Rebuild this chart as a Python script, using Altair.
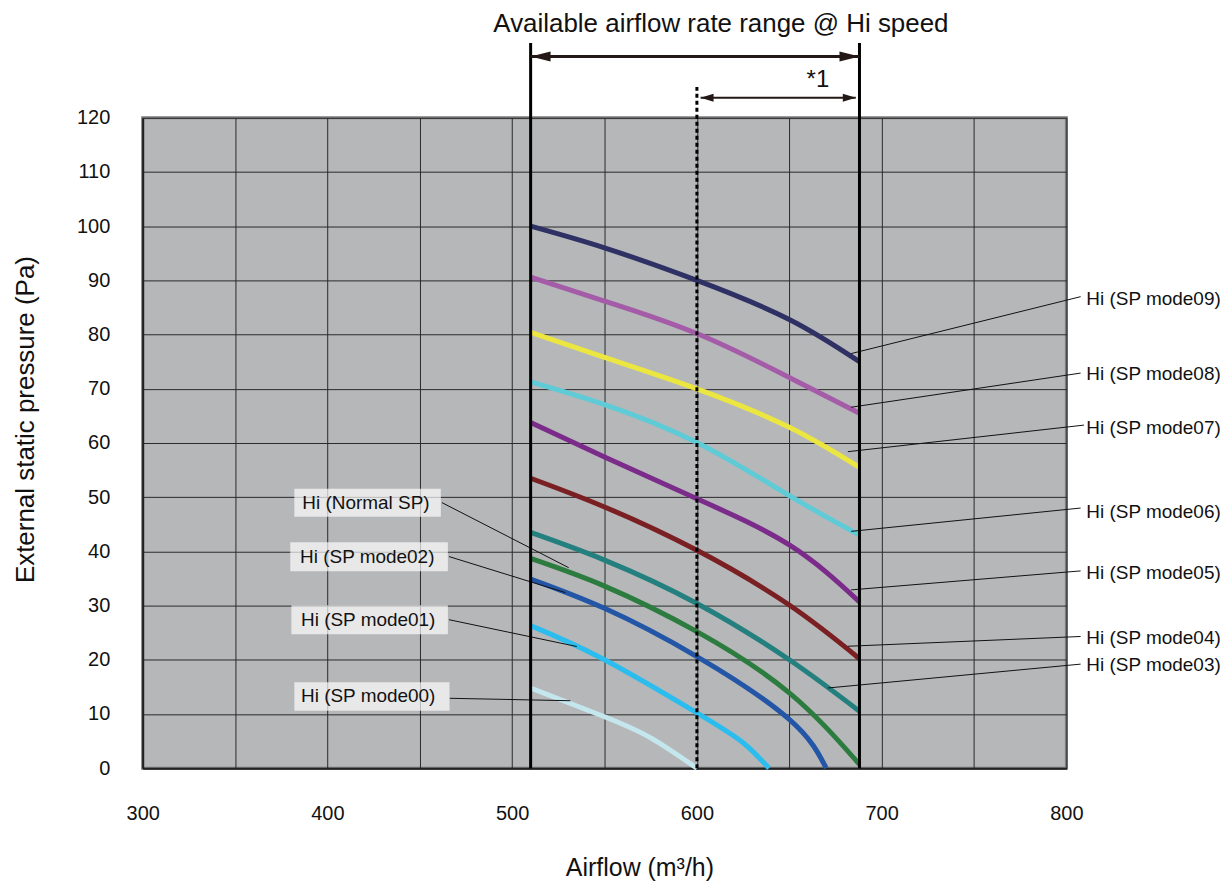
import altair as alt
import pandas as pd

# ---------------- data ----------------
series_names = ["Hi (SP mode09)", "Hi (SP mode08)", "Hi (SP mode07)", "Hi (SP mode06)",
                "Hi (SP mode05)", "Hi (SP mode04)", "Hi (SP mode03)", "Hi (Normal SP)",
                "Hi (SP mode02)", "Hi (SP mode01)", "Hi (SP mode00)"]
series_colors = ["#2f3165", "#a55ca8", "#ebe640", "#5ecbd6", "#7b2b8a", "#7a1f22",
                 "#24807f", "#2d7c3f", "#2356a6", "#2bbdee", "#c4e7ee"]

mode09_x = [510, 550, 600, 650, 688]
mode09_y = [100, 96, 90, 82.8, 75]
mode08_x = [510, 550, 600, 650, 688]
mode08_y = [90.6, 86.2, 80.2, 72.1, 65.5]
mode07_x = [510, 550, 600, 650, 688]
mode07_y = [80.4, 75.8, 70.0, 62.9, 55.5]
mode06_x = [510, 550, 600, 650, 688]
mode06_y = [71.3, 67.1, 60.1, 50.3, 43.0]
mode05_x = [510, 550, 600, 650, 688]
mode05_y = [63.8, 57.4, 49.7, 41.2, 30.7]
mode04_x = [510, 550, 600, 650, 688]
mode04_y = [53.5, 48.2, 40.2, 30.1, 20.2]
mode03_x = [510, 550, 600, 650, 688]
mode03_y = [43.5, 38.4, 30.4, 20.0, 10.5]
normal_x = [510, 550, 600, 650, 688]
normal_y = [38.7, 33.6, 25.2, 13.9, 0.7]
mode02_x = [510, 550, 600, 650, 670]
mode02_y = [34.9, 29.5, 20.6, 9.0, 0]
mode01_x = [510, 550, 600, 625, 639]
mode01_y = [26.3, 20.0, 10.2, 4.7, 0]
mode00_x = [510, 550, 575, 600]
mode00_y = [14.8, 9.5, 5.6, 0]

curves_x = [mode09_x, mode08_x, mode07_x, mode06_x, mode05_x, mode04_x,
            mode03_x, normal_x, mode02_x, mode01_x, mode00_x]
curves_y = [mode09_y, mode08_y, mode07_y, mode06_y, mode05_y, mode04_y,
            mode03_y, normal_y, mode02_y, mode01_y, mode00_y]

x_ticks = [300, 350, 400, 450, 500, 550, 600, 650, 700, 750, 800]
y_ticks = [0, 10, 20, 30, 40, 50, 60, 70, 80, 90, 100, 110, 120]

# range markers
range_lo, range_hi, range_mid = 510, 688, 600
range_line_top = 133.8
mid_line_top = 126.1
arrow_main_y = 131.3
arrow_sub_y = 123.7
arrow_sub_lo, arrow_sub_hi = 602, 686

# right-side labels (text anchor + leader line)
right_labels = ["Hi (SP mode09)", "Hi (SP mode08)", "Hi (SP mode07)", "Hi (SP mode06)",
                "Hi (SP mode05)", "Hi (SP mode04)", "Hi (SP mode03)"]
right_text_x = [810.8] * 7
right_text_y = [86.6, 72.7, 62.8, 47.3, 36.1, 24.0, 19.0]
right_lead_x1 = [807.7, 807.7, 809.5, 807.7, 807.7, 807.7, 807.7]
right_lead_y1 = [87.0, 72.9, 63.3, 48.0, 36.4, 24.3, 19.2]
right_lead_x2 = [683.5, 683.5, 681.7, 683.5, 683.5, 681.7, 670.9]
right_lead_y2 = [76.5, 66.6, 58.4, 43.7, 32.9, 22.5, 14.8]

# left-side boxed labels
left_labels = ["Hi (Normal SP)", "Hi (SP mode02)", "Hi (SP mode01)", "Hi (SP mode00)"]
left_text_x = [386.4, 385.2, 385.7, 385.7]
left_text_y = [49.0, 39.05, 27.4, 13.3]
left_box_x1 = [382.1, 379.9, 380.5, 382.1]
left_box_x2 = [461.4, 465.2, 465.2, 466.1]
left_box_y1 = [51.55, 41.7, 30.05, 15.85]
left_box_y2 = [46.4, 36.35, 24.7, 10.6]
left_lead_x1 = [462.0, 465.8, 465.8, 466.2]
left_lead_y1 = [49.0, 39.05, 27.4, 12.9]
left_lead_x2 = [530.6, 528.8, 535.0, 531.5]
left_lead_y2 = [37.0, 32.4, 22.45, 12.45]

title_text = "Available airflow rate range @ Hi speed"
title_x, title_y = 613.0, 137.3
note_text = "*1"
note_x, note_y = 665.5, 126.9

# ---------------- build tables ----------------
rows = []
for name, xs_, ys_ in zip(series_names, curves_x, curves_y):
    for a, b in zip(xs_, ys_):
        rows.append({"series": name, "airflow": a, "pressure": b})
curves_df = pd.DataFrame(rows)

xs = alt.Scale(domain=[300, 800], nice=False, zero=False)
ys = alt.Scale(domain=[0, 120], nice=False, zero=False)
FONT = "Liberation Sans"
INK = "#231815"

x_axis = alt.Axis(values=x_ticks, labelExpr="datum.value % 100 === 0 ? datum.label : ''",
                  grid=True, gridColor="#2a2a2a", gridWidth=1, ticks=False,
                  domainColor="#222222", domainWidth=2, labelFontSize=20, labelPadding=35,
                  labelFlush=False, labelOverlap=False, labelColor="#111111",
                  title="Airflow (m³/h)", titleFontSize=25, titleFontWeight="normal",
                  titleX=498, titleY=100, titleBaseline="middle", titleColor="#111111")
y_axis = alt.Axis(values=y_ticks, grid=True, gridColor="#2a2a2a", gridWidth=1, ticks=False,
                  domainColor="#222222", domainWidth=2, labelFontSize=20, labelPadding=33,
                  labelFlush=False, labelOverlap=False, labelColor="#111111",
                  title="External static pressure (Pa)", titleFontSize=26,
                  titleFontWeight="normal", titlePadding=38, titleY=302,
                  titleColor="#111111")


def X(f):
    return alt.X(f, type="quantitative", scale=xs, axis=x_axis)


def Y(f):
    return alt.Y(f, type="quantitative", scale=ys, axis=y_axis)


curves = alt.Chart(curves_df).mark_line(interpolate="natural", strokeWidth=5).encode(
    x=X("airflow"),
    y=Y("pressure"),
    color=alt.Color("series:N", scale=alt.Scale(domain=series_names, range=series_colors),
                    legend=None),
    detail="series:N",
)

vlines_df = pd.DataFrame({"x": [range_lo, range_hi], "y0": [0, 0],
                          "y1": [range_line_top, range_line_top]})
vlines = alt.Chart(vlines_df).mark_rule(color="black", strokeWidth=3).encode(
    x=X("x"), y=Y("y0"), y2="y1")

mid_df = pd.DataFrame({"x": [range_mid], "y0": [0], "y1": [mid_line_top]})
midline = alt.Chart(mid_df).mark_rule(color="black", strokeWidth=3, strokeDash=[4, 3]).encode(
    x=X("x"), y=Y("y0"), y2="y1")

arrows_df = pd.DataFrame({"x0": [range_lo, arrow_sub_lo], "x1": [range_hi, arrow_sub_hi],
                          "y": [arrow_main_y, arrow_sub_y], "w": [3, 2]})
arrow_lines = alt.Chart(arrows_df).mark_rule(color=INK).encode(
    x=X("x0"), x2="x1", y=Y("y"),
    strokeWidth=alt.StrokeWidth("w:Q", scale=None, legend=None))

big_left = alt.Chart(pd.DataFrame({"x": [range_lo], "y": [arrow_main_y]})).mark_point(
    shape="M0,0L4,-1L4,1Z", size=100, filled=True, color=INK, opacity=1).encode(
    x=X("x"), y=Y("y"))
big_right = alt.Chart(pd.DataFrame({"x": [range_hi], "y": [arrow_main_y]})).mark_point(
    shape="M0,0L-4,-1L-4,1Z", size=100, filled=True, color=INK, opacity=1).encode(
    x=X("x"), y=Y("y"))
small_left = alt.Chart(pd.DataFrame({"x": [arrow_sub_lo], "y": [arrow_sub_y]})).mark_point(
    shape="M0,0L2.6,-0.8L2.6,0.8Z", size=100, filled=True, color=INK, opacity=1).encode(
    x=X("x"), y=Y("y"))
small_right = alt.Chart(pd.DataFrame({"x": [arrow_sub_hi], "y": [arrow_sub_y]})).mark_point(
    shape="M0,0L-2.6,-0.8L-2.6,0.8Z", size=100, filled=True, color=INK, opacity=1).encode(
    x=X("x"), y=Y("y"))

right_df = pd.DataFrame({"label": right_labels, "tx": right_text_x, "ty": right_text_y,
                         "x1": right_lead_x1, "y1": right_lead_y1,
                         "x2": right_lead_x2, "y2": right_lead_y2})
right_leads = alt.Chart(right_df).mark_rule(color="#111111", strokeWidth=1).encode(
    x=X("x1"), y=Y("y1"), x2="x2", y2="y2")
right_text = alt.Chart(right_df).mark_text(align="left", baseline="middle", fontSize=19,
                                           color="#111111", font=FONT).encode(
    x=X("tx"), y=Y("ty"), text="label:N")

left_df = pd.DataFrame({"label": left_labels, "tx": left_text_x, "ty": left_text_y,
                        "bx1": left_box_x1, "bx2": left_box_x2,
                        "by1": left_box_y1, "by2": left_box_y2,
                        "x1": left_lead_x1, "y1": left_lead_y1,
                        "x2": left_lead_x2, "y2": left_lead_y2})
left_boxes = alt.Chart(left_df).mark_rect(color="white", opacity=0.68).encode(
    x=X("bx1"), x2="bx2", y=Y("by1"), y2="by2")
left_leads = alt.Chart(left_df).mark_rule(color="#111111", strokeWidth=1).encode(
    x=X("x1"), y=Y("y1"), x2="x2", y2="y2")
left_text = alt.Chart(left_df).mark_text(align="left", baseline="middle", fontSize=19,
                                         color="#111111", font=FONT).encode(
    x=X("tx"), y=Y("ty"), text="label:N")

top_df = pd.DataFrame({"label": [title_text, note_text], "x": [title_x, note_x],
                       "y": [title_y, note_y], "fs": [26, 24]})
top_text = alt.Chart(top_df).mark_text(align="center", baseline="middle", color="#111111",
                                       font=FONT).encode(
    x=X("x"), y=Y("y"), text="label:N",
    size=alt.Size("fs:Q", scale=None, legend=None))

chart = alt.layer(
    curves, right_leads, left_leads, vlines, midline, arrow_lines,
    big_left, big_right, small_left, small_right,
    left_boxes, left_text, right_text, top_text,
).properties(
    width=926, height=652,
    autosize=alt.AutoSizeParams(type="none"),
    padding={"left": 135, "top": 109, "right": 157, "bottom": 113},
).configure(font=FONT).configure_view(
    fill="#b6b7b9", stroke="#7d7e80", strokeWidth=3
)

chart.save("out.html", embed_options={"renderer": "svg", "actions": False})
